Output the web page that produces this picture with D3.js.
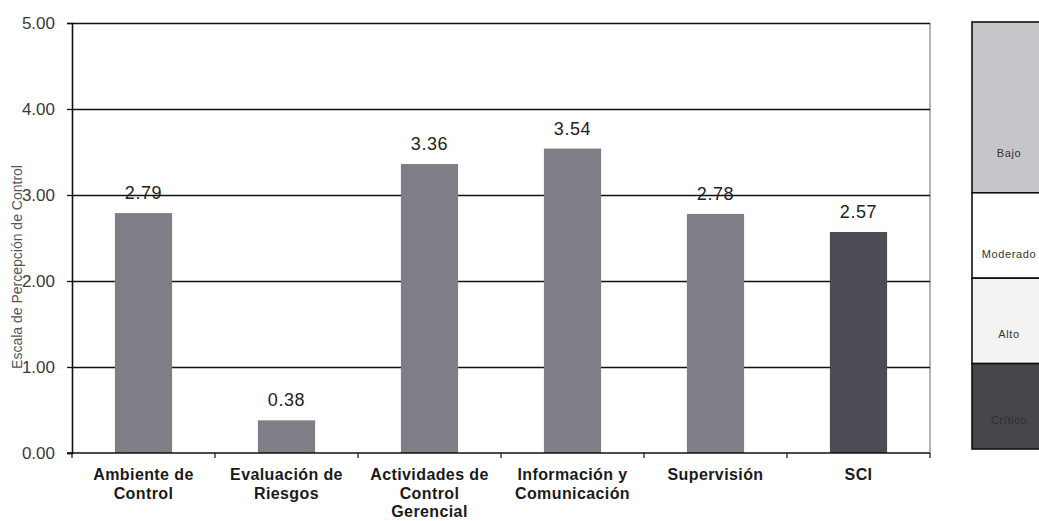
<!DOCTYPE html>
<html><head><meta charset="utf-8">
<script src="https://cdn.jsdelivr.net/npm/d3@7/dist/d3.min.js"></script>
<style>body{margin:0;background:#fff}svg{display:block}text{font-family:Arial,"Liberation Sans",sans-serif}</style>
</head><body><svg id="c" width="1039" height="521"></svg>
<script>
const categories = [["Ambiente de","Control"],["Evaluación de","Riesgos"],["Actividades de","Control","Gerencial"],["Información y","Comunicación"],["Supervisión"],["SCI"]];
const values = [2.79, 0.38, 3.36, 3.54, 2.78, 2.57];
const yTicks = [0,1,2,3,4,5];
const bands = [{label:"Bajo",from:3,to:5},{label:"Moderado",from:2,to:3},{label:"Alto",from:1,to:2},{label:"Crítico",from:0,to:1}];
const bandColors = ["#c6c6ca","#ffffff","#f3f3f3","#46464d"];
const yTitle = "Escala de Percepción de Control";

const svg = d3.select("#c");
const L=72, R=930, T=23, B=453;
const x = d3.scaleBand().domain(d3.range(categories.length)).range([L,R]).paddingInner(0.6).paddingOuter(0.3);
const y = d3.scaleLinear().domain([0,5]).range([B,T]);

// right frame
svg.append("line").attr("x1",R).attr("x2",R).attr("y1",T).attr("y2",B).attr("stroke","#666").attr("stroke-width",1);
// gridlines
svg.append("g").selectAll("line").data(yTicks.slice(1)).join("line")
  .attr("x1",L).attr("x2",R).attr("y1",d=>Math.round(y(d))+0.5).attr("y2",d=>Math.round(y(d))+0.5).attr("stroke","#111").attr("stroke-width",1.3);

// bars
svg.append("g").selectAll("rect").data(values).join("rect")
  .attr("x",(d,i)=>x(i)).attr("width",x.bandwidth())
  .attr("y",d=>y(d)).attr("height",d=>B-y(d))
  .attr("fill",(d,i)=>i===values.length-1?"#4c4c54":"#7e7e86");

// value labels
svg.append("g").selectAll("text").data(values).join("text")
  .attr("x",(d,i)=>x(i)+x.bandwidth()/2).attr("y",d=>y(d)-14)
  .attr("text-anchor","middle").attr("font-size",18).attr("letter-spacing",0.6).attr("fill","#222")
  .text(d=>d.toFixed(2));

// y axis
const ya = svg.append("g").attr("transform",`translate(${L},0)`)
  .call(d3.axisLeft(y).tickValues(yTicks).tickFormat(d3.format(".2f")).tickSize(5).tickPadding(12));
ya.select(".domain").attr("stroke","#111").attr("stroke-width",1.6);
ya.selectAll(".tick line").attr("stroke","#111").attr("stroke-width",1.3);
ya.selectAll(".tick text").attr("font-size",17).attr("fill","#3a3a3a").attr("font-family","Arial,'Liberation Sans',sans-serif");

// x axis
svg.append("line").attr("x1",L-5).attr("x2",R).attr("y1",B).attr("y2",B).attr("stroke","#111").attr("stroke-width",1.6);
svg.append("g").selectAll("line").data(d3.range(categories.length+1)).join("line")
  .attr("x1",i=>L+i*(R-L)/categories.length).attr("x2",i=>L+i*(R-L)/categories.length)
  .attr("y1",B).attr("y2",B+5).attr("stroke","#111").attr("stroke-width",1.2);
const cl = svg.append("g").selectAll("text").data(categories).join("text")
  .attr("text-anchor","middle").attr("font-size",16).attr("font-weight","bold").attr("letter-spacing",0.4).attr("fill","#1a1a1a");
cl.each(function(lines,i){
  const t=d3.select(this);
  lines.forEach((ln,j)=>t.append("tspan").attr("x",x(i)+x.bandwidth()/2).attr("y",480+j*18.5).text(ln));
});

// y title
svg.append("text").attr("transform","translate(22,267) rotate(-90)").attr("text-anchor","middle")
  .attr("font-size",14).attr("fill","#555").text(yTitle);

// legend bands
const lx=972, lw=90;
const ly = d3.scaleLinear().domain([0,5]).range([449,22]);
const labelOffsets = [36,20,26,25];
const lg = svg.append("g");
lg.selectAll("rect").data(bands).join("rect")
  .attr("x",lx).attr("width",lw).attr("y",d=>ly(d.to)).attr("height",d=>ly(d.from)-ly(d.to))
  .attr("fill",(d,i)=>bandColors[i]).attr("stroke","#111").attr("stroke-width",1.6);
lg.selectAll("text").data(bands).join("text")
  .attr("x",1009).attr("y",(d,i)=>ly(d.from)-labelOffsets[i]).attr("text-anchor","middle")
  .attr("font-size",11).attr("letter-spacing",0.6).attr("fill",(d,i)=>i===3?"#2e2e34":"#333").text(d=>d.label);
</script></body></html>
